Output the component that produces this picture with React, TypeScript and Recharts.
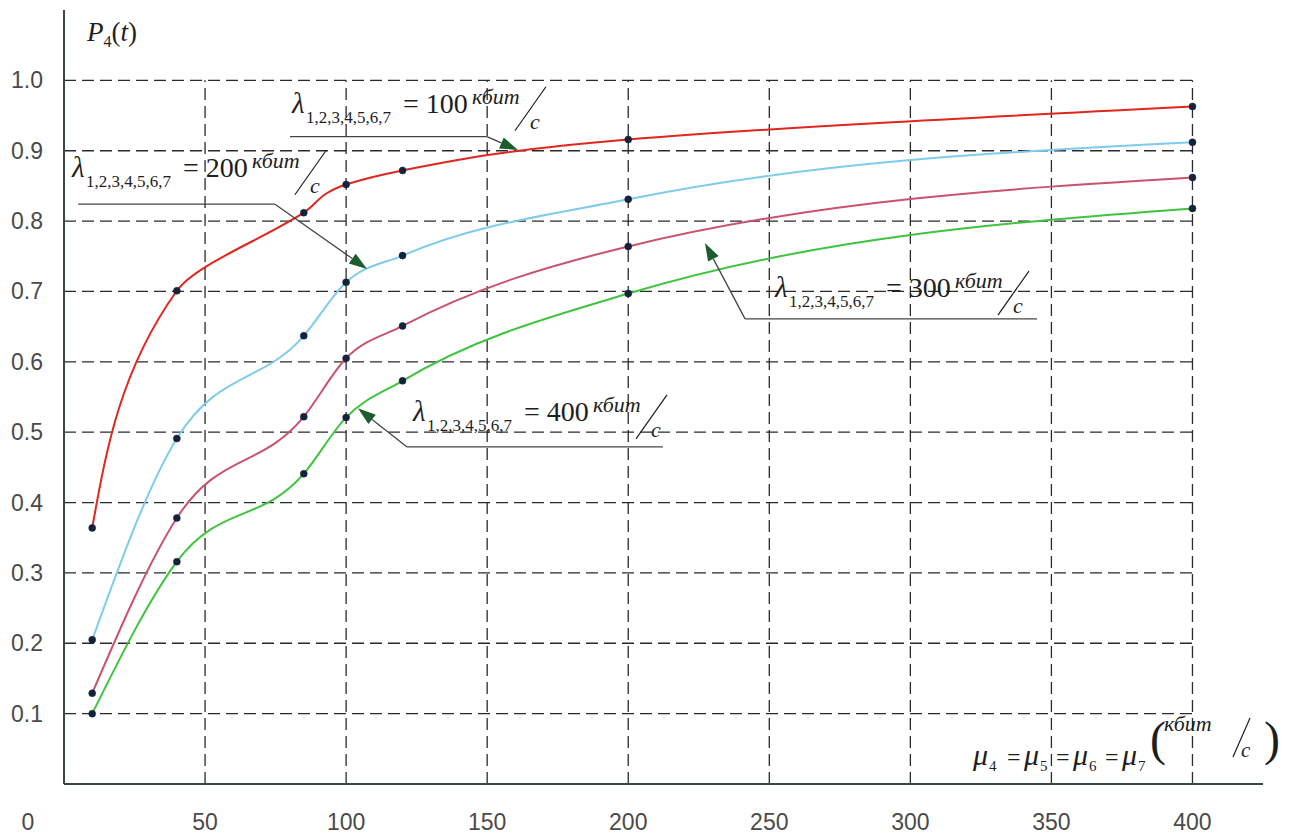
import { LineChart, Line, XAxis, YAxis, ReferenceLine, ReferenceDot } from "recharts";

const muValues = [10, 40, 85, 100, 120, 200, 400];
const p100 = [0.364, 0.701, 0.812, 0.852, 0.872, 0.916, 0.963];
const p200 = [0.205, 0.491, 0.637, 0.713, 0.751, 0.831, 0.912];
const p300 = [0.129, 0.378, 0.522, 0.605, 0.651, 0.764, 0.862];
const p400 = [0.1, 0.316, 0.441, 0.521, 0.573, 0.697, 0.818];

const xTicks = [0, 50, 100, 150, 200, 250, 300, 350, 400];
const yTicks = [0.1, 0.2, 0.3, 0.4, 0.5, 0.6, 0.7, 0.8, 0.9, 1.0];

// callouts: text anchor, horizontal leader, arrow tip (data units)
const callouts = [
  { value: "100", at: [80.8, 0.954], from: [80.1, 0.92], to: [149.9, 0.92], tip: [160.9, 0.901] },
  { value: "200", at: [2.8, 0.863], from: [5.0, 0.824], to: [74.8, 0.824], tip: [107.4, 0.732] },
  { value: "300", at: [252.0, 0.692], from: [344.9, 0.661], to: [241.4, 0.661], tip: [227.2, 0.769] },
  { value: "400", at: [123.7, 0.516], from: [212.3, 0.479], to: [121.6, 0.479], tip: [104.2, 0.534] },
];

const data = muValues.map((mu, i) => ({
  mu,
  l100: p100[i],
  l200: p200[i],
  l300: p300[i],
  l400: p400[i],
}));

const SERIF = "'Liberation Serif', 'DejaVu Serif', serif";
const SANS = "'Liberation Sans', Arial, sans-serif";
const INK = "#1e1e1e";
const GRID = "#2a2a2a";
const AXIS = "#3b4842";

const dot = { r: 3.5, fill: "#14233b", stroke: "#14233b", strokeWidth: 0.5 };

function XTick(props: any) {
  const { x, y, payload } = props;
  const shift = payload.value === 0 ? -36 : 0;
  return (
    <text x={x + shift} y={y + 46} textAnchor="middle" fontFamily={SANS} fontSize={23} fill="#4a4a4a">
      {payload.value}
    </text>
  );
}

function YTick(props: any) {
  const { x, y, payload } = props;
  return (
    <text x={x - 21} y={y + 8} textAnchor="end" fontFamily={SANS} fontSize={23} fill="#4a4a4a">
      {payload.value.toFixed(1)}
    </text>
  );
}

function YTitle(props: any) {
  const vb = props.viewBox || { x: 0, y: 10, width: 64 };
  const x = vb.x + vb.width + 23;
  const y = vb.y + 31;
  return (
    <text x={x} y={y} fontFamily={SERIF} fontSize={27} fill={INK}>
      <tspan fontStyle="italic">P</tspan>
      <tspan fontSize={16} dy={6}>4</tspan>
      <tspan dy={-6}>(</tspan>
      <tspan fontStyle="italic">t</tspan>
      <tspan>)</tspan>
    </text>
  );
}

function XTitle(props: any) {
  const vb = props.viewBox || { x: 64, y: 784, width: 1199 };
  const bx = vb.x + vb.width - 290;
  const by = vb.y - 19;
  const mu = (dx: number, sub: string) => (
    <g key={sub}>
      <text x={bx + dx} y={by} fontSize={30} fontStyle="italic">μ</text>
      <text x={bx + dx + 16} y={by + 6} fontSize={15}>{sub}</text>
    </g>
  );
  return (
    <g fontFamily={SERIF} fill={INK}>
      {mu(0, "4")}
      <text x={bx + 34} y={by} fontSize={24}>=</text>
      {mu(51, "5")}
      <text x={bx + 83} y={by} fontSize={24}>=</text>
      {mu(100, "6")}
      <text x={bx + 132} y={by} fontSize={24}>=</text>
      {mu(149, "7")}
      <text x={bx + 177} y={by - 10} fontSize={48}>(</text>
      <text x={bx + 191} y={by - 34} fontSize={22} fontStyle="italic">кбит</text>
      <line x1={bx + 277} y1={by - 47} x2={bx + 260} y2={by - 8} stroke={INK} strokeWidth={1.2} />
      <text x={bx + 268} y={by - 8} fontSize={21} fontStyle="italic">с</text>
      <text x={bx + 291} y={by - 10} fontSize={48}>)</text>
    </g>
  );
}

function LambdaLabel({ cx, cy, value }: any) {
  return (
    <g fontFamily={SERIF} fill={INK}>
      <text x={cx} y={cy} fontSize={29} fontStyle="italic">λ</text>
      <text x={cx + 14} y={cy + 10} fontSize={17}>1,2,3,4,5,6,7</text>
      <text x={cx + 111} y={cy} fontSize={28}>= {value}</text>
      <text x={cx + 180} y={cy - 9} fontSize={22} fontStyle="italic">кбит</text>
      <line x1={cx + 254} y1={cy - 26} x2={cx + 223} y2={cy + 18} stroke={INK} strokeWidth={1.2} />
      <text x={cx + 238} y={cy + 16} fontSize={22} fontStyle="italic">с</text>
    </g>
  );
}

function ArrowShape(props: any) {
  const { x1, y1, x2, y2 } = props;
  const dx = x2 - x1;
  const dy = y2 - y1;
  const len = Math.hypot(dx, dy) || 1;
  const ux = dx / len;
  const uy = dy / len;
  const L = 18;
  const W = 6;
  const bx = x2 - ux * L;
  const by = y2 - uy * L;
  const pts = `${x2},${y2} ${bx - uy * W},${by + ux * W} ${bx + uy * W},${by - ux * W}`;
  return (
    <g>
      <line x1={x1} y1={y1} x2={bx} y2={by} stroke="#444" strokeWidth={1.3} />
      <polygon points={pts} fill="#1d5c2c" />
    </g>
  );
}

export default function App() {
  return (
    <div style={{ position: "absolute", left: 0, top: 0, width: 1291, height: 834, background: "#fff" }}>
      <LineChart width={1291} height={834} data={data} margin={{ top: 10, right: 28, bottom: 0, left: 0 }}>
        <XAxis
          type="number"
          dataKey="mu"
          domain={[0, 425]}
          ticks={xTicks}
          interval={0}
          tick={XTick}
          tickLine={false}
          tickSize={0}
          tickMargin={0}
          height={50}
          allowDataOverflow
          axisLine={{ stroke: AXIS, strokeWidth: 2 }}
          label={XTitle}
        />
        <YAxis
          type="number"
          domain={[0, 1.1]}
          ticks={yTicks}
          interval={0}
          tick={YTick}
          tickLine={false}
          tickSize={0}
          tickMargin={0}
          width={64}
          allowDataOverflow
          axisLine={{ stroke: AXIS, strokeWidth: 2 }}
          label={YTitle}
        />

        {yTicks.map((v) => (
          <ReferenceLine
            key={"h" + v}
            segment={[{ x: 0, y: v }, { x: 400, y: v }]}
            stroke={GRID}
            strokeWidth={1.3}
            strokeDasharray="12 6"
          />
        ))}
        {xTicks.filter((v) => v > 0).map((v) => (
          <ReferenceLine
            key={"v" + v}
            segment={[{ x: v, y: 0 }, { x: v, y: 1.0 }]}
            stroke={GRID}
            strokeWidth={1.3}
            strokeDasharray="12 6"
          />
        ))}

        <Line type="monotoneY" dataKey="l100" stroke="#e0261d" strokeWidth={2} dot={dot} activeDot={false} isAnimationActive={false} />
        <Line type="monotone" dataKey="l200" stroke="#7ecbeb" strokeWidth={2} dot={dot} activeDot={false} isAnimationActive={false} />
        <Line type="monotone" dataKey="l300" stroke="#c9536f" strokeWidth={2} dot={dot} activeDot={false} isAnimationActive={false} />
        <Line type="monotone" dataKey="l400" stroke="#3fc43f" strokeWidth={2} dot={dot} activeDot={false} isAnimationActive={false} />

        {callouts.map((c) => (
          <ReferenceLine
            key={"hl" + c.value}
            segment={[{ x: c.from[0], y: c.from[1] }, { x: c.to[0], y: c.to[1] }]}
            stroke="#444"
            strokeWidth={1.3}
          />
        ))}
        {callouts.map((c) => (
          <ReferenceLine
            key={"ar" + c.value}
            segment={[{ x: c.to[0], y: c.to[1] }, { x: c.tip[0], y: c.tip[1] }]}
            shape={ArrowShape}
          />
        ))}
        {callouts.map((c) => (
          <ReferenceDot
            key={"lb" + c.value}
            x={c.at[0]}
            y={c.at[1]}
            r={0}
            ifOverflow="visible"
            shape={(p: any) => <LambdaLabel cx={p.cx} cy={p.cy} value={c.value} />}
          />
        ))}
      </LineChart>
    </div>
  );
}
